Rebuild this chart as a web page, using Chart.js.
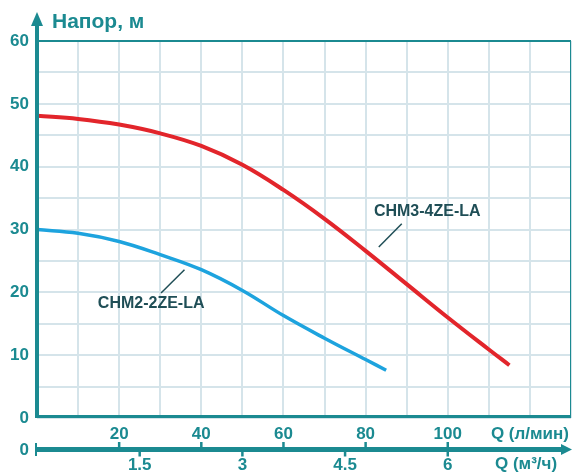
<!DOCTYPE html>
<html>
<head>
<meta charset="utf-8">
<script src="https://cdn.jsdelivr.net/npm/chart.js@4.4.0/dist/chart.umd.min.js"></script>
<style>
html, body { margin: 0; padding: 0; background: #fff; }
</style>
</head>
<body>
<canvas id="grafic" width="572" height="473"></canvas>
<script>
// date (Q in l/min, H in m)
var qRosu = [0, 10, 20, 30, 40, 50, 60, 70, 80, 90, 100, 110, 115];
var hRosu = [48.1, 47.6, 46.7, 45.3, 43.3, 40.3, 36.3, 31.7, 26.6, 21.3, 16.0, 10.9, 8.4];
var qAlbastru = [0, 10, 20, 30, 40, 50, 60, 70, 80, 85];
var hAlbastru = [30.0, 29.4, 28.1, 26.0, 23.6, 20.3, 16.3, 12.7, 9.3, 7.6];

var numeRosu = 'CHM3-4ZE-LA';
var numeAlbastru = 'CHM2-2ZE-LA';
// pozitia etichetelor si a liniutelor (in unitati de date)
var etichetaRosu = [95.0, 32.8];
var liniutaRosu = [83.2, 27.2, 88.8, 30.9];
var etichetaAlbastru = [27.8, 18.2];
var liniutaAlbastru = [30.2, 19.9, 35.9, 23.6];

var titlu = 'Напор, м';
var axaLmin = 'Q (л/мин)';
var axaM3 = 'Q (м³/ч)';
var ticksLmin = [20, 40, 60, 80, 100];
var ticksM3 = [1.5, 3, 4.5, 6];

var teal = '#1b8a91';
var textInchis = '#1f4e56';
var grila = '#d5e4ea';
var font = 'Liberation Sans, Arial, sans-serif';

function perechi(xs, ys) {
    var r = [];
    for (var i = 0; i < xs.length; i++) r.push({x: xs[i], y: ys[i]});
    return r;
}

function linie(c, x1, y1, x2, y2) {
    c.beginPath();
    c.moveTo(x1, y1);
    c.lineTo(x2, y2);
    c.stroke();
}

var desen = {
    id: 'desen',
    afterDraw: function(chart) {
        var c = chart.ctx, a = chart.chartArea;
        var x = chart.scales.x, y = chart.scales.y, x2 = chart.scales.x2;
        c.save();
        c.strokeStyle = teal;
        c.fillStyle = teal;

        // chenar
        c.lineWidth = 2;
        linie(c, a.left, a.top, a.right, a.top);
        c.lineWidth = 1;
        linie(c, a.right - 0.5, a.top, a.right - 0.5, a.bottom);
        c.lineWidth = 3;
        linie(c, a.left, a.bottom - 1.5, a.right, a.bottom - 1.5);

        // axa verticala cu sageata
        c.lineWidth = 4;
        linie(c, a.left, a.bottom, a.left, 24);
        c.beginPath();
        c.moveTo(a.left - 6, 26);
        c.lineTo(a.left, 12);
        c.lineTo(a.left + 6, 26);
        c.closePath();
        c.fill();

        // a doua axa orizontala
        var ya = x2.top + 5.5;
        c.lineWidth = 5;
        linie(c, a.left - 1, ya, 562, ya);
        c.beginPath();
        c.moveTo(561, ya - 5.5);
        c.lineTo(572, ya);
        c.lineTo(561, ya + 5.5);
        c.closePath();
        c.fill();
        c.lineWidth = 2;
        linie(c, a.left - 1, ya - 6.5, a.left - 1, ya + 6.5);
        c.lineWidth = 2.5;
        ticksLmin.forEach(function(v) {
            var px = x.getPixelForValue(v);
            linie(c, px, ya - 7.5, px, ya);
        });
        ticksM3.forEach(function(v) {
            var px = x2.getPixelForValue(v);
            linie(c, px, ya, px, ya + 7);
        });

        // texte
        c.font = 'bold 17px ' + font;
        c.textAlign = 'right';
        c.textBaseline = 'middle';
        c.fillText('0', 29, ya + 0.5);
        c.textAlign = 'center';
        c.fillText(axaM3, 526, 464.5);
        c.font = 'bold 21px ' + font;
        c.textAlign = 'left';
        c.fillText(titlu, 52, 22);

        // etichete curbe
        c.fillStyle = textInchis;
        c.strokeStyle = textInchis;
        c.font = 'bold 16px ' + font;
        c.textAlign = 'center';
        c.fillText(numeRosu, x.getPixelForValue(etichetaRosu[0]), y.getPixelForValue(etichetaRosu[1]));
        c.fillText(numeAlbastru, x.getPixelForValue(etichetaAlbastru[0]), y.getPixelForValue(etichetaAlbastru[1]));
        c.lineWidth = 1.5;
        [liniutaRosu, liniutaAlbastru].forEach(function(l) {
            linie(c, x.getPixelForValue(l[0]), y.getPixelForValue(l[1]),
                     x.getPixelForValue(l[2]), y.getPixelForValue(l[3]));
        });
        c.restore();
    }
};

var fontTick = {family: font, size: 17, weight: 'bold'};

// fara padding lateral cerut de axe, ca zona graficului sa mearga pana la margine
function faraPadding(s) {
    s.paddingLeft = 0;
    s.paddingRight = 0;
}

new Chart(document.getElementById('grafic'), {
    type: 'line',
    data: {
        datasets: [
            {
                data: perechi(qRosu, hRosu),
                borderColor: '#e2252b',
                borderWidth: 4,
                pointRadius: 0,
                tension: 0.4,
                fill: false
            },
            {
                data: perechi(qAlbastru, hAlbastru),
                borderColor: '#1da3de',
                borderWidth: 3.5,
                pointRadius: 0,
                tension: 0.4,
                fill: false
            }
        ]
    },
    options: {
        responsive: false,
        animation: false,
        devicePixelRatio: 1,
        layout: {padding: {top: 41, right: 1, left: 0, bottom: 0}},
        plugins: {legend: {display: false}, tooltip: {enabled: false}},
        scales: {
            x: {
                type: 'linear', min: 0, max: 130, position: 'bottom',
                afterFit: function(s) { s.height = 26; faraPadding(s); },
                grid: {color: grila, lineWidth: 2, drawTicks: false},
                border: {display: false},
                ticks: {
                    stepSize: 10, autoSkip: false, maxRotation: 0, padding: 6,
                    color: teal, font: fontTick,
                    callback: function(v) {
                        if (v === 120) return axaLmin;
                        return ticksLmin.indexOf(v) >= 0 ? String(v) : '';
                    }
                }
            },
            x2: {
                type: 'linear', min: 0, max: 7.8, position: 'bottom',
                afterFit: function(s) { s.height = 29; faraPadding(s); },
                grid: {display: false, drawTicks: false},
                border: {display: false},
                ticks: {
                    stepSize: 1.5, autoSkip: false, maxRotation: 0, padding: 11,
                    color: teal, font: fontTick,
                    callback: function(v) {
                        return ticksM3.indexOf(v) >= 0 ? String(v) : '';
                    }
                }
            },
            y: {
                min: 0, max: 60,
                afterFit: function(s) { s.width = 37; },
                grid: {color: grila, lineWidth: 2, drawTicks: false},
                border: {display: false},
                ticks: {
                    stepSize: 5, padding: 8, color: teal, font: fontTick,
                    callback: function(v) { return v % 10 === 0 ? String(v) : ''; }
                }
            }
        }
    },
    plugins: [desen]
});
</script>
</body>
</html>
